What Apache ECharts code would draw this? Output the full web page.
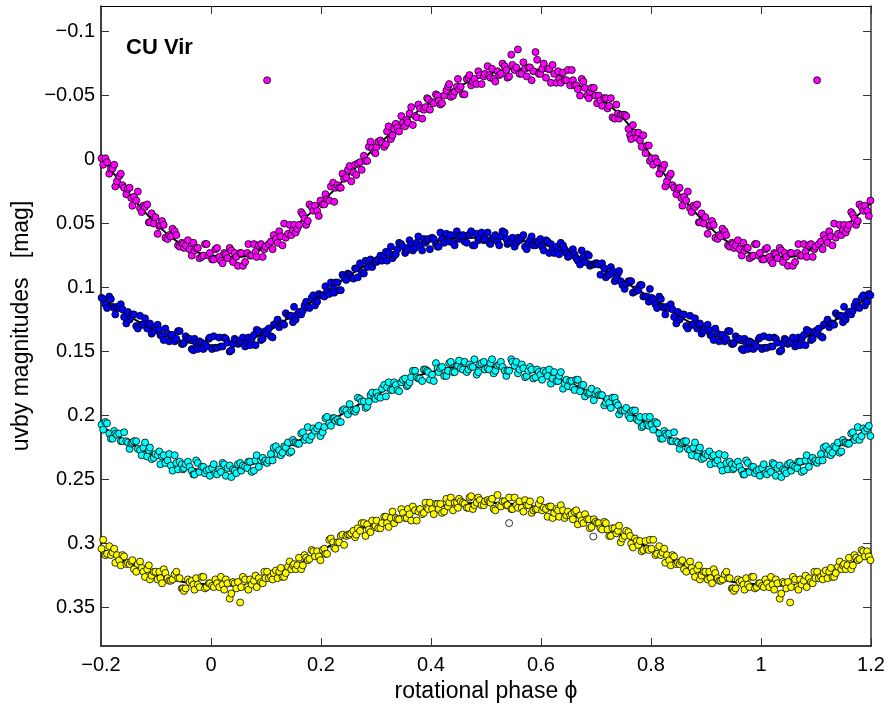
<!DOCTYPE html>
<html><head><meta charset="utf-8">
<script src="https://cdn.jsdelivr.net/npm/echarts@6/dist/echarts.min.js"></script>
<style>html,body{margin:0;padding:0;background:#fff}#c{width:888px;height:708px}</style>
</head><body><div id="c"></div>
<script>
// Rotational phase of each uvby observation (simultaneous in all four filters), season 1
const phase = [
0.002,0.008,0.015,0.021,0.027,0.034,0.040,0.046,
0.053,0.058,0.066,0.071,0.078,0.083,0.091,0.097,
0.102,0.109,0.114,0.121,0.127,0.133,0.140,0.146,
0.151,0.157,0.164,0.170,0.176,0.183,0.189,0.196,
0.203,0.208,0.215,0.222,0.226,0.233,0.239,0.246,
0.252,0.259,0.264,0.271,0.278,0.284,0.290,0.297,
0.301,0.308,0.315,0.320,0.327,0.333,0.339,0.346,
0.353,0.358,0.364,0.371,0.377,0.384,0.390,0.395,
0.402,0.409,0.414,0.420,0.428,0.433,0.440,0.447,
0.451,0.458,0.465,0.470,0.476,0.483,0.489,0.496,
0.503,0.508,0.514,0.521,0.527,0.534,0.539,0.546,
0.552,0.558,0.565,0.571,0.577,0.583,0.590,0.596,
0.602,0.609,0.615,0.621,0.628,0.633,0.640,0.646,
0.653,0.658,0.664,0.671,0.677,0.684,0.689,0.696,
0.702,0.708,0.715,0.721,0.727,0.734,0.740,0.745,
0.752,0.759,0.764,0.771,0.777,0.783,0.790,0.796,
0.801,0.808,0.815,0.821,0.826,0.833,0.839,0.846,
0.852,0.857,0.864,0.871,0.877,0.884,0.889,0.896,
0.903,0.908,0.914,0.921,0.927,0.934,0.940,0.947,
0.951,0.958,0.965,0.970,0.976,0.983,0.989,0.996];

const uMag = [
0.078,0.070,0.076,0.081,0.074,0.069,0.080,0.076,
0.073,0.083,0.073,0.075,0.066,0.076,0.066,0.070,
-0.062,0.064,0.059,0.065,0.060,0.050,0.058,0.059,
0.051,0.054,0.041,0.046,0.048,0.037,0.036,0.044,
0.035,0.027,0.032,0.018,0.022,0.022,0.011,0.014,
0.005,0.010,0.012,0.002,-0.003,0.001,-0.014,-0.006,
-0.010,-0.015,-0.010,-0.022,-0.016,-0.024,-0.025,-0.034,
-0.026,-0.029,-0.041,-0.034,-0.043,-0.032,-0.041,-0.047,
-0.045,-0.051,-0.046,-0.044,-0.054,-0.059,-0.050,-0.057,
-0.055,-0.051,-0.063,-0.066,-0.061,-0.059,-0.066,-0.065,
-0.073,-0.064,-0.063,-0.069,-0.067,-0.073,-0.064,-0.082,
-0.070,-0.086,-0.067,-0.071,-0.072,-0.062,-0.084,-0.067,
-0.071,-0.064,-0.071,-0.074,-0.060,-0.063,-0.068,-0.062,
-0.058,-0.062,-0.058,-0.050,-0.061,-0.050,-0.053,-0.056,
-0.044,-0.046,-0.048,-0.040,-0.048,-0.032,-0.036,-0.035,
-0.035,-0.024,-0.016,-0.021,-0.021,-0.010,-0.005,-0.011,
-0.001,-0.001,0.011,0.007,0.021,0.013,0.020,0.027,
0.022,0.036,0.032,0.038,0.036,0.035,0.049,0.050,
0.058,0.051,0.051,0.062,0.060,0.056,0.067,0.065,
0.069,0.063,0.075,0.071,0.069,0.076,0.066,0.075];

const vMag = [
0.148,0.147,0.139,0.146,0.140,0.150,0.144,0.141,
0.143,0.139,0.143,0.145,0.137,0.133,0.141,0.135,
0.136,0.138,0.129,0.125,0.128,0.129,0.122,0.122,
0.115,0.121,0.121,0.114,0.115,0.108,0.114,0.105,
0.106,0.099,0.105,0.100,0.096,0.102,0.090,0.094,
0.090,0.093,0.085,0.081,0.089,0.084,0.078,0.080,
0.080,0.075,0.075,0.079,0.068,0.075,0.070,0.066,
0.073,0.069,0.066,0.069,0.060,0.071,0.065,0.062,
0.061,0.066,0.068,0.062,0.058,0.064,0.065,0.056,
0.062,0.059,0.065,0.059,0.067,0.058,0.061,0.063,
0.057,0.066,0.061,0.064,0.060,0.057,0.066,0.064,
0.068,0.061,0.061,0.068,0.065,0.060,0.067,0.065,
0.068,0.063,0.073,0.070,0.068,0.074,0.067,0.073,
0.075,0.070,0.077,0.082,0.076,0.074,0.083,0.082,
0.081,0.090,0.085,0.090,0.084,0.095,0.089,0.095,
0.101,0.095,0.095,0.103,0.102,0.098,0.107,0.111,
0.108,0.113,0.107,0.115,0.121,0.116,0.117,0.128,
0.125,0.121,0.130,0.122,0.129,0.132,0.128,0.134,
0.129,0.137,0.141,0.136,0.137,0.142,0.134,0.144,
0.143,0.140,0.148,0.140,0.148,0.143,0.144,0.140];

const bMag = [
0.241,0.245,0.242,0.237,0.247,0.239,0.242,0.245,
0.237,0.239,0.241,0.236,0.243,0.231,0.235,0.236,
0.237,0.230,0.225,0.230,0.231,0.224,0.221,0.228,
0.221,0.222,0.214,0.219,0.209,0.216,0.212,0.208,
0.213,0.202,0.206,0.202,0.204,0.205,0.196,0.196,
0.191,0.196,0.195,0.187,0.189,0.193,0.184,0.186,
0.182,0.186,0.176,0.178,0.180,0.174,0.180,0.174,
0.171,0.176,0.170,0.165,0.171,0.173,0.164,0.166,
0.168,0.159,0.166,0.162,0.169,0.159,0.166,0.161,
0.157,0.164,0.166,0.160,0.162,0.168,0.160,0.158,
0.163,0.159,0.167,0.161,0.158,0.165,0.165,0.156,
0.161,0.167,0.160,0.170,0.165,0.164,0.170,0.166,
0.172,0.166,0.164,0.171,0.173,0.169,0.179,0.172,
0.173,0.178,0.172,0.181,0.176,0.182,0.182,0.188,
0.181,0.184,0.192,0.187,0.194,0.186,0.192,0.196,
0.196,0.200,0.197,0.196,0.204,0.209,0.201,0.208,
0.207,0.205,0.214,0.218,0.214,0.214,0.220,0.220,
0.226,0.221,0.220,0.227,0.225,0.232,0.225,0.233,
0.231,0.238,0.231,0.235,0.239,0.231,0.242,0.238,
0.241,0.236,0.243,0.246,0.237,0.240,0.245,0.242];

const yMag = [
0.333,0.328,0.334,0.332,0.328,0.343,0.330,0.335,
0.346,0.326,0.334,0.328,0.329,0.334,0.330,0.322,
0.322,0.326,0.323,0.327,0.319,0.326,0.318,0.320,
0.316,0.317,0.320,0.309,0.313,0.305,0.310,0.310,
0.305,0.308,0.297,0.299,0.304,0.299,0.293,0.294,
0.293,0.290,0.293,0.290,0.284,0.285,0.291,0.287,
0.282,0.288,0.279,0.284,0.280,0.284,0.281,0.273,
0.280,0.273,0.282,0.274,0.275,0.277,0.268,0.273,
0.273,0.269,0.273,0.276,0.265,0.268,0.274,0.268,
0.265,0.268,0.272,0.264,0.273,0.268,0.266,0.270,
0.266,0.268,0.273,0.262,0.271,0.267,0.270,0.273,
0.264,0.272,0.272,0.266,0.270,0.276,0.273,0.269,
0.274,0.273,0.271,0.280,0.273,0.279,0.274,0.278,
0.278,0.281,0.274,0.278,0.284,0.281,0.288,0.281,
0.284,0.288,0.283,0.289,0.294,0.288,0.290,0.299,
0.294,0.291,0.300,0.296,0.301,0.306,0.298,0.305,
0.304,0.309,0.302,0.307,0.315,0.313,0.309,0.316,
0.316,0.313,0.322,0.314,0.322,0.320,0.328,0.322,
0.328,0.327,0.320,0.327,0.329,0.324,0.327,0.335,
0.337,0.328,0.329,0.336,0.332,0.326,0.335,0.331];

// season 2 observations
const phase2 = [
0.005,0.011,0.018,0.024,0.030,0.037,0.043,0.049,
0.055,0.062,0.068,0.074,0.081,0.087,0.094,0.099,
0.105,0.112,0.118,0.124,0.130,0.136,0.143,0.149,
0.154,0.160,0.167,0.173,0.179,0.186,0.193,0.199,
0.206,0.211,0.218,0.224,0.230,0.236,0.242,0.249,
0.255,0.262,0.267,0.274,0.281,0.287,0.293,0.299,
0.304,0.311,0.318,0.323,0.330,0.336,0.342,0.349,
0.356,0.361,0.367,0.374,0.380,0.387,0.393,0.398,
0.405,0.412,0.417,0.424,0.431,0.436,0.443,0.449,
0.454,0.461,0.468,0.473,0.479,0.486,0.492,0.498,
0.506,0.511,0.517,0.524,0.530,0.537,0.542,0.548,
0.555,0.561,0.568,0.574,0.580,0.586,0.593,0.599,
0.605,0.612,0.618,0.624,0.631,0.636,0.643,0.649,
0.656,0.661,0.667,0.674,0.680,0.687,0.692,0.699,
0.705,0.711,0.718,0.724,0.730,0.737,0.742,0.748,
0.755,0.762,0.767,0.774,0.780,0.786,0.793,0.798,
0.804,0.811,0.818,0.824,0.829,0.836,0.842,0.849,
0.855,0.860,0.867,0.874,0.880,0.887,0.892,0.899,
0.906,0.911,0.917,0.924,0.930,0.937,0.943,0.949,
0.954,0.961,0.968,0.973,0.979,0.986,0.992,0.998];

const uMag2 = [
0.078,0.069,0.079,0.073,0.077,0.071,0.073,0.083,
0.073,0.080,0.066,0.075,0.072,0.067,0.076,0.068,
0.066,0.070,0.062,0.056,0.067,0.061,0.051,0.055,
0.057,0.051,0.043,0.051,0.035,0.040,0.040,0.032,
0.035,0.031,0.021,0.033,0.020,0.022,0.015,0.008,
0.017,0.004,0.003,0.008,0.001,-0.010,-0.009,-0.005,
-0.014,-0.013,-0.012,-0.026,-0.019,-0.028,-0.022,-0.029,
-0.031,-0.036,-0.027,-0.033,-0.040,-0.039,-0.048,-0.039,
-0.044,-0.050,-0.043,-0.050,-0.057,-0.049,-0.053,-0.063,
-0.057,-0.051,-0.064,-0.058,-0.063,-0.069,-0.059,-0.067,
-0.066,-0.071,-0.061,-0.066,-0.075,-0.070,-0.065,-0.074,
-0.072,-0.067,-0.076,-0.065,-0.072,-0.069,-0.078,-0.067,
-0.075,-0.071,-0.060,-0.067,-0.069,-0.060,-0.062,-0.070,
-0.070,-0.058,-0.055,-0.063,-0.056,-0.048,-0.056,-0.050,
-0.050,-0.042,-0.048,-0.042,-0.033,-0.043,-0.032,-0.035,
-0.034,-0.019,-0.027,-0.017,-0.015,-0.019,-0.011,0.001,
0.004,0.002,0.007,0.004,0.017,0.011,0.022,0.023,
0.030,0.029,0.025,0.041,0.037,0.049,0.042,0.045,
0.052,0.048,0.061,0.059,0.054,0.059,0.068,0.066,
0.067,0.070,0.065,0.069,0.077,0.075,0.066,0.073];

const vMag2 = [
0.138,0.147,0.146,0.139,0.143,0.149,0.140,0.144,
0.142,0.146,0.139,0.140,0.145,0.134,0.140,0.134,
0.132,0.139,0.128,0.131,0.128,0.120,0.122,0.127,
0.125,0.119,0.118,0.111,0.116,0.106,0.111,0.106,
0.107,0.103,0.096,0.104,0.096,0.102,0.092,0.089,
0.092,0.085,0.092,0.088,0.079,0.080,0.084,0.079,
0.078,0.079,0.072,0.073,0.077,0.074,0.065,0.068,
0.071,0.063,0.071,0.065,0.067,0.062,0.063,0.070,
0.062,0.068,0.057,0.065,0.062,0.059,0.067,0.060,
0.060,0.064,0.059,0.056,0.067,0.063,0.057,0.062,
0.065,0.062,0.059,0.067,0.056,0.062,0.065,0.061,
0.065,0.063,0.059,0.070,0.063,0.067,0.064,0.062,
0.071,0.064,0.066,0.073,0.071,0.065,0.070,0.076,
0.071,0.074,0.079,0.071,0.080,0.075,0.082,0.081,
0.082,0.081,0.092,0.090,0.087,0.092,0.087,0.098,
0.097,0.095,0.104,0.101,0.098,0.107,0.107,0.101,
0.109,0.116,0.109,0.116,0.115,0.113,0.123,0.119,
0.123,0.121,0.132,0.129,0.124,0.129,0.136,0.131,
0.133,0.138,0.132,0.142,0.137,0.140,0.134,0.144,
0.138,0.140,0.149,0.143,0.142,0.148,0.146,0.139];

const bMag2 = [
0.238,0.246,0.244,0.238,0.241,0.248,0.243,0.238,
0.243,0.240,0.236,0.244,0.235,0.240,0.233,0.235,
0.235,0.235,0.224,0.227,0.229,0.225,0.229,0.219,
0.221,0.222,0.213,0.217,0.219,0.210,0.210,0.216,
0.209,0.201,0.208,0.202,0.203,0.205,0.195,0.199,
0.196,0.197,0.186,0.189,0.194,0.189,0.182,0.187,
0.185,0.179,0.185,0.174,0.180,0.176,0.181,0.172,
0.177,0.174,0.165,0.170,0.171,0.164,0.165,0.172,
0.173,0.163,0.163,0.169,0.165,0.158,0.166,0.161,
0.163,0.158,0.164,0.162,0.156,0.166,0.159,0.164,
0.164,0.156,0.165,0.160,0.162,0.169,0.165,0.158,
0.158,0.164,0.163,0.169,0.162,0.171,0.164,0.168,
0.165,0.169,0.175,0.166,0.173,0.166,0.175,0.177,
0.173,0.180,0.172,0.176,0.185,0.183,0.179,0.183,
0.184,0.184,0.190,0.190,0.186,0.190,0.199,0.196,
0.194,0.202,0.196,0.203,0.201,0.208,0.207,0.201,
0.211,0.206,0.218,0.212,0.215,0.220,0.213,0.221,
0.222,0.220,0.226,0.231,0.221,0.227,0.234,0.230,
0.228,0.232,0.237,0.230,0.243,0.237,0.236,0.242,
0.238,0.240,0.246,0.235,0.244,0.240,0.243,0.247];

const yMag2 = [
0.334,0.331,0.326,0.336,0.331,0.339,0.331,0.330,
0.334,0.328,0.336,0.332,0.325,0.327,0.331,0.327,
0.327,0.328,0.321,0.322,0.326,0.323,0.314,0.317,
0.320,0.311,0.317,0.311,0.312,0.306,0.306,0.313,
0.304,0.308,0.296,0.303,0.299,0.294,0.301,0.293,
0.292,0.295,0.288,0.284,0.294,0.289,0.282,0.286,
0.288,0.284,0.279,0.287,0.275,0.280,0.281,0.276,
0.280,0.277,0.271,0.282,0.273,0.276,0.272,0.268,
0.277,0.269,0.269,0.275,0.271,0.264,0.268,0.272,
0.267,0.269,0.272,0.263,0.270,0.264,0.270,0.267,
0.267,0.265,0.274,0.270,0.267,0.270,0.264,0.273,
0.270,0.267,0.275,0.270,0.267,0.274,0.273,0.266,
0.272,0.279,0.271,0.276,0.274,0.270,0.280,0.275,
0.277,0.275,0.285,0.282,0.277,0.281,0.287,0.283,
0.284,0.289,0.284,0.294,0.288,0.292,0.286,0.296,
0.290,0.294,0.303,0.298,0.298,0.305,0.304,0.297,
0.297,0.308,0.309,0.304,0.309,0.317,0.310,0.315,
0.314,0.320,0.316,0.319,0.326,0.317,0.325,0.322,
0.322,0.331,0.323,0.329,0.328,0.322,0.327,0.335,
0.335,0.330,0.332,0.327,0.334,0.326,0.334,0.331];

// rejected y observations (open circles): [phase, mag]
const yRejected = [[0.542, 0.284], [0.695, 0.2945]];

// fitted light curves
const fitPhase = [0,0.05,0.1,0.15,0.2,0.25,0.3,0.35,0.4,0.45,0.5,0.55,0.6,0.65,0.7,0.75,0.8,0.85,0.9,0.95];
const uFit = [0.075,0.076,0.068,0.053,0.034,0.012,-0.010,-0.029,-0.045,-0.057,-0.066,-0.071,-0.070,-0.062,-0.050,-0.032,-0.003,0.026,0.050,0.067];
const vFit = [0.145,0.143,0.135,0.121,0.106,0.091,0.078,0.069,0.064,0.061,0.061,0.063,0.066,0.073,0.082,0.095,0.108,0.122,0.134,0.142];
const bFit = [0.243,0.241,0.234,0.222,0.209,0.196,0.184,0.173,0.166,0.162,0.162,0.163,0.167,0.174,0.184,0.195,0.208,0.221,0.232,0.240];
const yFit = [0.332,0.333,0.327,0.318,0.306,0.293,0.284,0.278,0.272,0.269,0.268,0.269,0.272,0.277,0.285,0.294,0.304,0.315,0.324,0.330];

const xTicks = [-0.2, 0, 0.2, 0.4, 0.6, 0.8, 1, 1.2];
const yTicks = [-0.1, -0.05, 0, 0.05, 0.1, 0.15, 0.2, 0.25, 0.3, 0.35];

const X_MIN = -0.2, X_MAX = 1.2, Y_MIN = -0.12, Y_MAX = 0.38;
const FONT = '"Liberation Sans", Arial, Helvetica, sans-serif';

// repeat the phased data by whole cycles over the plotted phase range
function fold(ph, mags) {
  const out = [];
  for (let i = 0; i < ph.length; i++) {
    for (const s of [-1, 0, 1]) {
      const p = ph[i] + s;
      if (p >= X_MIN - 1e-9 && p <= X_MAX + 1e-9) out.push([+p.toFixed(4), mags[i]]);
    }
  }
  return out.sort((a, b) => a[0] - b[0]);
}
function fmt(v) {
  const s = String(+Math.abs(v).toFixed(2));
  return v < 0 ? '\u2212' + s : s;
}

const chart = echarts.init(document.getElementById('c'), null, {renderer: 'canvas'});
const allPhase = phase.concat(phase2);
const sets = [
  {name: 'u', mags: uMag.concat(uMag2), fit: uFit, color: '#ff00ff'},
  {name: 'v', mags: vMag.concat(vMag2), fit: vFit, color: '#0000ff'},
  {name: 'b', mags: bMag.concat(bMag2), fit: bFit, color: '#00ffff'},
  {name: 'y', mags: yMag.concat(yMag2), fit: yFit, color: '#ffff00'}
];
const series = [];
sets.forEach(s => {
  series.push({
    type: 'line', name: s.name + ' fit', data: fold(fitPhase, s.fit),
    showSymbol: false, smooth: 0.4, silent: true, z: 1,
    lineStyle: {color: '#000', width: 2}
  });
});
sets.forEach(s => {
  series.push({
    type: 'scatter', name: s.name, data: fold(allPhase, s.mags),
    symbol: 'circle', symbolSize: 7, z: 2, large: false,
    itemStyle: {color: s.color, borderColor: '#000', borderWidth: 0.8, opacity: 1}
  });
});
series.push({
  type: 'scatter', name: 'y rejected', data: yRejected,
  symbol: 'circle', symbolSize: 7, z: 2,
  itemStyle: {color: '#fff', borderColor: '#000', borderWidth: 0.8, opacity: 1}
});

const tickStyle = {color: '#333', width: 1};
chart.setOption({
  animation: false,
  backgroundColor: '#fff',
  grid: {left: 101, top: 6, width: 770, height: 640, containLabel: false},
  xAxis: [{
    type: 'value', min: X_MIN, max: X_MAX, position: 'bottom',
    axisLine: {show: true, onZero: false, lineStyle: {color: '#000', width: 1.5}},
    axisTick: {show: true, inside: true, length: 8, customValues: xTicks, lineStyle: tickStyle},
    axisLabel: {customValues: xTicks, formatter: fmt, margin: 9, fontSize: 20, color: '#000', fontFamily: FONT},
    splitLine: {show: false},
    name: 'rotational phase \u03d5', nameLocation: 'middle', nameGap: 33,
    nameTextStyle: {fontSize: 23, color: '#000', fontFamily: FONT}
  }, {
    type: 'value', min: X_MIN, max: X_MAX, position: 'top',
    axisLine: {show: true, onZero: false, lineStyle: {color: '#000', width: 1}},
    axisTick: {show: true, inside: true, length: 8, customValues: xTicks, lineStyle: tickStyle},
    axisLabel: {show: false}, splitLine: {show: false}
  }],
  yAxis: [{
    type: 'value', min: Y_MIN, max: Y_MAX, inverse: true, position: 'left',
    axisLine: {show: true, onZero: false, lineStyle: {color: '#000', width: 1.5}},
    axisTick: {show: true, inside: true, length: 8, customValues: yTicks, lineStyle: tickStyle},
    axisLabel: {customValues: yTicks, formatter: fmt, margin: 6, fontSize: 20, color: '#000', fontFamily: FONT},
    splitLine: {show: false},
    name: 'uvby magnitudes   [mag]', nameLocation: 'middle', nameGap: 66, nameRotate: 90,
    nameTextStyle: {fontSize: 23, color: '#000', fontFamily: FONT}
  }, {
    type: 'value', min: Y_MIN, max: Y_MAX, inverse: true, position: 'right',
    axisLine: {show: true, onZero: false, lineStyle: {color: '#333', width: 1.5}},
    axisTick: {show: true, inside: true, length: 8, customValues: yTicks, lineStyle: tickStyle},
    axisLabel: {show: false}, splitLine: {show: false}
  }],
  graphic: [{
    type: 'text', left: 126, top: 37,
    style: {text: 'CU Vir', font: 'bold 22px ' + FONT, fill: '#000'}
  }],
  series: series
});
</script>
</body></html>
